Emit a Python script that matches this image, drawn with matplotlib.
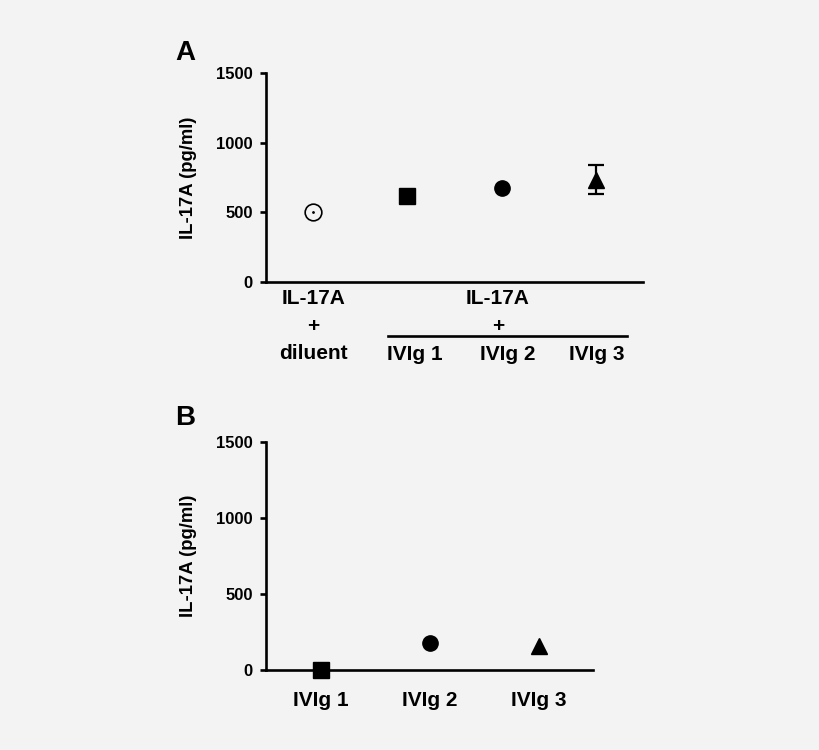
import matplotlib.pyplot as plt

plt.rcParams['font.family'] = ['Liberation Sans', 'DejaVu Sans']
plt.rcParams['font.weight'] = 'bold'

bg = '#f3f3f3'

# panel A
a_groups = ["IL-17A + diluent", "IVIg 1", "IVIg 2", "IVIg 3"]
a_values = [500, 617, 678, 735]
a_errors = [0, 0, 0, 105]
a_markers = ['o', 's', 'o', '^']
a_filled = [False, True, True, True]

# panel B
b_groups = ["IVIg 1", "IVIg 2", "IVIg 3"]
b_values = [0, 178, 155]
b_markers = ['s', 'o', '^']

yticks = [0, 500, 1000, 1500]

fig = plt.figure(figsize=(8.2, 7.5), dpi=100, facecolor=bg)
axA = fig.add_axes([0.3244, 0.624, 0.4597, 0.2787])
axB = fig.add_axes([0.3244, 0.1067, 0.3988, 0.304])


def style(ax):
    ax.set_facecolor(bg)
    for s in ['top', 'right']:
        ax.spines[s].set_visible(False)
    for s in ['left', 'bottom']:
        ax.spines[s].set_linewidth(1.9)
    ax.set_ylim(0, 1500)
    ax.set_yticks(yticks)
    ax.tick_params(axis='y', length=4.5, width=1.9, labelsize=12, pad=5)
    ax.tick_params(axis='x', length=0, labelsize=15, pad=15)
    ax.set_ylabel("IL-17A (pg/ml)", fontsize=13.3, fontweight='bold', labelpad=14)


style(axA)
xa = list(range(1, len(a_values) + 1))
for x, v, e, m, f in zip(xa, a_values, a_errors, a_markers, a_filled):
    if f:
        axA.errorbar(x, v, yerr=e if e else None, fmt=m, color='black',
                     markersize=11 if m != 's' else 12, capsize=6,
                     elinewidth=1.6, capthick=1.6, clip_on=False, zorder=3)
    else:
        axA.plot(x, v, marker=m, markersize=12, markerfacecolor='none',
                 markeredgecolor='black', markeredgewidth=1.2, ls='none', zorder=3)
        axA.plot(x, v, marker='.', markersize=2, color='black', ls='none', zorder=4)
axA.set_xlim(0.5, 4.5)
axA.set_xticks([])
tA = axA.get_xaxis_transform()
axA.text(1, -0.035, "IL-17A\n+\ndiluent", transform=tA, ha='center', va='top',
         fontsize=15, fontweight='bold', linespacing=1.55)
axA.text(2.96, -0.035, "IL-17A\n+", transform=tA, ha='center', va='top',
         fontsize=15, fontweight='bold', linespacing=1.55)
axA.plot([1.79, 4.33], [-0.26, -0.26], transform=tA, color='black',
         lw=1.9, clip_on=False)
for x, g in zip([2.08, 3.07, 4.01], a_groups[1:]):
    axA.text(x, -0.345, g, transform=tA, ha='center', va='center',
             fontsize=15, fontweight='bold')
fig.text(0.2256, 0.929, "A", fontsize=20, fontweight='bold', ha='center', va='center')

style(axB)
xb = list(range(1, len(b_values) + 1))
for x, v, m in zip(xb, b_values, b_markers):
    axB.plot(x, v, marker=m, markersize=11 if m != 's' else 12, color='black',
             ls='none', clip_on=False, zorder=3)
axB.set_xlim(0.5, 3.5)
axB.set_xticks(xb)
axB.set_xticklabels(b_groups, fontweight='bold')
fig.text(0.2256, 0.443, "B", fontsize=20, fontweight='bold', ha='center', va='center')

fig.savefig("out.png", dpi=100, facecolor=bg)
